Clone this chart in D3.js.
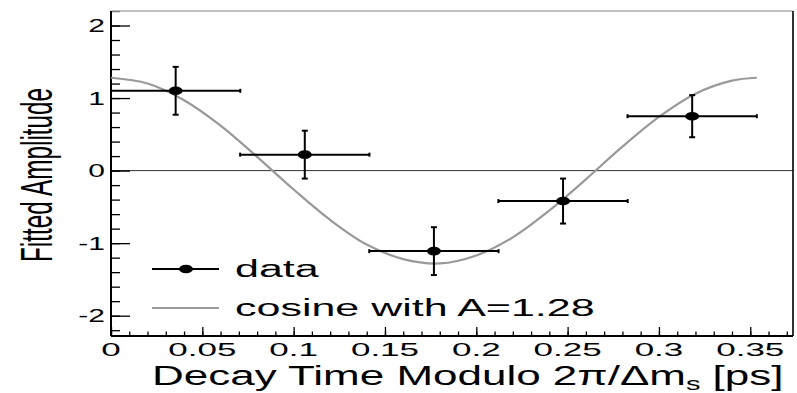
<!DOCTYPE html>
<html>
<head>
<meta charset="utf-8">
<script src="https://cdn.jsdelivr.net/npm/d3@7"></script>
<style>
  body { margin: 0; background: #fff; }
  svg { display: block; }
  text { font-family: "Liberation Sans", Arial, sans-serif; fill: #000; }
</style>
</head>
<body>
<svg width="797" height="393"></svg>
<script>
// data
const binCenters = [0.0354, 0.1061, 0.1768, 0.2475, 0.3182];
const binHalfWidths = [0.0354, 0.0354, 0.0354, 0.0354, 0.0354];
const amplitudes = [1.10, 0.22, -1.11, -0.42, 0.75];
const amplitudeErrors = [0.33, 0.33, 0.33, 0.31, 0.29];

// fitted curve, read at steps along the grey line
const cosineTimes = [0, 0.02, 0.04, 0.06, 0.08, 0.10, 0.12, 0.14, 0.16, 0.18,
  0.20, 0.22, 0.24, 0.26, 0.28, 0.30, 0.32, 0.34, 0.3536];
const cosineValues = [1.28, 1.20, 0.97, 0.62, 0.19, -0.26, -0.68, -1.02, -1.22, -1.28,
  -1.17, -0.92, -0.55, -0.12, 0.33, 0.74, 1.06, 1.24, 1.28];

const xTicks = [0, 0.05, 0.1, 0.15, 0.2, 0.25, 0.3, 0.35];
const xTickLabels = ["0", "0.05", "0.1", "0.15", "0.2", "0.25", "0.3", "0.35"];
const yTicks = [-2, -1, 0, 1, 2];
const yTickLabels = ["-2", "-1", "0", "1", "2"];
const legendLabels = ["data", "cosine with A=1.28"];

(function () {
  const svg = d3.select("svg");
  const left = 111, right = 793, top = 11, bottom = 336;

  const xScale = d3.scaleLinear()
    .domain([0, 0.3734])
    .range([left, right]);

  const yScale = d3.scaleLinear()
    .domain([-2.28, 2.2])
    .range([bottom, top]);

  // zero line
  svg.append("line")
    .attr("x1", left).attr("x2", right)
    .attr("y1", yScale(0)).attr("y2", yScale(0))
    .attr("stroke", "#333").attr("stroke-width", 1);

  // ticks (inward, ROOT style)
  const xMinor = d3.range(0, 0.3734, 0.01);
  const yMinor = d3.range(-2.2, 2.21, 0.2);

  const addAxis = (axis) => {
    const g = svg.append("g").call(axis);
    g.select(".domain").remove();
    g.selectAll(".tick line").attr("stroke", "#000").attr("stroke-width", 1.3);
    return g;
  };

  addAxis(d3.axisBottom(xScale).tickValues(xMinor).tickSize(-4.5).tickFormat(""))
    .attr("transform", `translate(0, ${bottom})`);
  addAxis(d3.axisBottom(xScale).tickValues(xTicks).tickSize(-9).tickFormat(""))
    .attr("transform", `translate(0, ${bottom})`);
  addAxis(d3.axisLeft(yScale).tickValues(yMinor).tickSize(-9).tickFormat(""))
    .attr("transform", `translate(${left}, 0)`);
  addAxis(d3.axisLeft(yScale).tickValues(yTicks).tickSize(-19).tickFormat(""))
    .attr("transform", `translate(${left}, 0)`);

  // frame
  svg.append("line").attr("x1", left).attr("x2", right).attr("y1", top).attr("y2", top)
    .attr("stroke", "#aaa").attr("stroke-width", 1.6);
  svg.append("line").attr("x1", right).attr("x2", right).attr("y1", top).attr("y2", bottom)
    .attr("stroke", "#000").attr("stroke-width", 1.6);
  svg.append("line").attr("x1", left).attr("x2", right).attr("y1", bottom).attr("y2", bottom)
    .attr("stroke", "#000").attr("stroke-width", 2);
  svg.append("line").attr("x1", left).attr("x2", left).attr("y1", top).attr("y2", bottom)
    .attr("stroke", "#000").attr("stroke-width", 2);

  // tick labels (picture is squashed vertically, so text is too)
  svg.selectAll(".xlab")
    .data(xTicks)
    .enter()
    .append("g")
    .attr("transform", (d) => `translate(${xScale(d)}, 356) scale(1, 0.52)`)
    .append("text")
    .attr("text-anchor", "middle")
    .style("font-size", "35px")
    .text((d, i) => xTickLabels[i]);

  svg.selectAll(".ylab")
    .data(yTicks)
    .enter()
    .append("g")
    .attr("transform", (d) => `translate(105, ${yScale(d) + 6.5}) scale(1, 0.6)`)
    .append("text")
    .attr("text-anchor", "end")
    .style("font-size", "30px")
    .text((d, i) => yTickLabels[i]);

  // axis titles
  const xTitle = svg.append("g")
    .attr("transform", "translate(152, 385) scale(1, 0.64)")
    .append("text")
    .style("font-size", "44px");
  xTitle.append("tspan").text("Decay Time Modulo 2π/Δm");
  xTitle.append("tspan").attr("dy", 8).style("font-size", "29px").text("s");
  xTitle.append("tspan").attr("dy", -8).text(" [ps]");

  svg.append("g")
    .attr("transform", "translate(52, 175) scale(1, 0.54) rotate(-90)")
    .append("text")
    .attr("text-anchor", "middle")
    .style("font-size", "45px")
    .text("Fitted Amplitude");

  // cosine curve
  const line = d3.line()
    .x((d) => xScale(d[0]))
    .y((d) => yScale(d[1]))
    .curve(d3.curveCatmullRom);

  svg.append("path")
    .attr("d", line(d3.zip(cosineTimes, cosineValues)))
    .attr("fill", "none")
    .attr("stroke", "#999")
    .attr("stroke-width", 2.2);

  // data points with error bars
  const points = binCenters.map((c, i) => ({
    x: c, hw: binHalfWidths[i], y: amplitudes[i], e: amplitudeErrors[i]
  }));

  const pts = svg.selectAll(".pt")
    .data(points)
    .enter()
    .append("g")
    .attr("stroke", "#000")
    .attr("stroke-width", 2);

  pts.append("line")
    .attr("x1", (d) => xScale(d.x - d.hw)).attr("x2", (d) => xScale(d.x + d.hw))
    .attr("y1", (d) => yScale(d.y)).attr("y2", (d) => yScale(d.y));
  pts.append("line")
    .attr("x1", (d) => xScale(d.x - d.hw)).attr("x2", (d) => xScale(d.x - d.hw))
    .attr("y1", (d) => yScale(d.y) - 2).attr("y2", (d) => yScale(d.y) + 2);
  pts.append("line")
    .attr("x1", (d) => xScale(d.x + d.hw)).attr("x2", (d) => xScale(d.x + d.hw))
    .attr("y1", (d) => yScale(d.y) - 2).attr("y2", (d) => yScale(d.y) + 2);
  pts.append("line")
    .attr("x1", (d) => xScale(d.x)).attr("x2", (d) => xScale(d.x))
    .attr("y1", (d) => yScale(d.y + d.e)).attr("y2", (d) => yScale(d.y - d.e));
  pts.append("line")
    .attr("x1", (d) => xScale(d.x) - 3).attr("x2", (d) => xScale(d.x) + 3)
    .attr("y1", (d) => yScale(d.y + d.e)).attr("y2", (d) => yScale(d.y + d.e));
  pts.append("line")
    .attr("x1", (d) => xScale(d.x) - 3).attr("x2", (d) => xScale(d.x) + 3)
    .attr("y1", (d) => yScale(d.y - d.e)).attr("y2", (d) => yScale(d.y - d.e));
  pts.append("ellipse")
    .attr("cx", (d) => xScale(d.x)).attr("cy", (d) => yScale(d.y))
    .attr("rx", 7).attr("ry", 4.3)
    .attr("fill", "#000").attr("stroke", "none");

  // legend
  const legendY = [269, 308];
  svg.append("line").attr("x1", 152).attr("x2", 219).attr("y1", legendY[0]).attr("y2", legendY[0])
    .attr("stroke", "#000").attr("stroke-width", 2);
  svg.append("ellipse").attr("cx", 186).attr("cy", legendY[0]).attr("rx", 7).attr("ry", 4.3)
    .attr("fill", "#000");
  svg.append("line").attr("x1", 152).attr("x2", 219).attr("y1", legendY[1]).attr("y2", legendY[1])
    .attr("stroke", "#999").attr("stroke-width", 2.2);

  svg.selectAll(".leg")
    .data(legendLabels)
    .enter()
    .append("g")
    .attr("transform", (d, i) => `translate(235, ${legendY[i] + 7.5}) scale(1, 0.55)`)
    .append("text")
    .style("font-size", "43px")
    .text((d) => d);
})()
</script>
</body>
</html>
